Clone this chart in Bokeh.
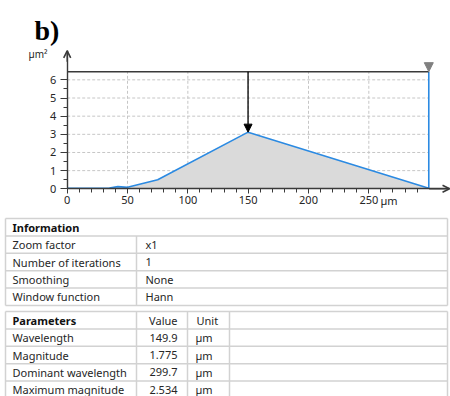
from bokeh.plotting import figure
from bokeh.models import (Range1d, FixedTicker, Arrow, OpenHead, NormalHead, Label,
                          LinearAxis)
from bokeh.core.properties import value
from bokeh.embed import file_html
from bokeh.resources import INLINE

# ---- spectrum profile (wavelength in µm, power in µm²) ----
wavelength = [0, 35, 42, 50, 60, 75, 149.9, 299.7]
power = [0.03, 0.04, 0.12, 0.08, 0.25, 0.5, 3.12, 0.03]
peak_wavelength = 149.9
peak_power = 3.12
dominant_wavelength = 299.7
top_level = 6.45

x_ticks = [0, 50, 100, 150, 200, 250]
x_minor_ticks = [10, 20, 30, 40, 60, 70, 80, 90, 110, 120, 130, 140,
                 160, 170, 180, 190, 210, 220, 230, 240, 260, 270, 280, 290]
y_ticks = [0, 1, 2, 3, 4, 5, 6]
y_minor_ticks = [0.5, 1.5, 2.5, 3.5, 4.5, 5.5]

# ---- table contents ----
info_title = "Information"
info_names = ["Zoom factor", "Number of iterations", "Smoothing", "Window function"]
info_values = ["x1", "1", "None", "Hann"]

param_headers = ["Parameters", "Value", "Unit"]
param_names = ["Wavelength", "Magnitude", "Dominant wavelength", "Maximum magnitude"]
param_values = ["149.9", "1.775", "299.7", "2.534"]
param_units = ["µm", "µm", "µm", "µm"]

FONT = "Noto Sans"
AXIS_COLOR = "#3a3a3a"
TEXT_COLOR = "#262626"

W, H = 450, 396
# spectrum scale: origin and pixels per unit on the page
X0_PX, X_SCALE = 66.7, 1.2065
Y0_PX, Y_SCALE = 188.3, 18.16
X_AXIS_END = 316.9
Y_AXIS_END = 7.6

p = figure(width=W, height=H,
           x_range=Range1d(-X0_PX / X_SCALE, (W - X0_PX) / X_SCALE),
           y_range=Range1d(-(H - Y0_PX) / Y_SCALE, Y0_PX / Y_SCALE),
           output_backend="svg", toolbar_location=None,
           x_axis_location=None, y_axis_location=None, min_border=0)
p.extra_x_ranges = {"px": Range1d(0, W)}
p.extra_y_ranges = {"px": Range1d(H, 0)}
p.outline_line_color = None
p.grid.visible = False
p.background_fill_color = "white"
p.border_fill_color = "white"

xaxis = LinearAxis(fixed_location=0, bounds=(0, X_AXIS_END),
                   ticker=FixedTicker(ticks=x_ticks, minor_ticks=x_minor_ticks))
yaxis = LinearAxis(fixed_location=0, bounds=(0, Y_AXIS_END),
                   ticker=FixedTicker(ticks=y_ticks, minor_ticks=y_minor_ticks))
for ax in (xaxis, yaxis):
    ax.axis_line_color = AXIS_COLOR
    ax.axis_line_width = 1.4
    ax.major_tick_line_color = AXIS_COLOR
    ax.minor_tick_line_color = AXIS_COLOR
    ax.major_tick_in = 0
    ax.minor_tick_in = 0
    ax.major_label_text_font = FONT
    ax.major_label_text_font_size = "11px"
    ax.major_label_text_color = TEXT_COLOR
xaxis.major_tick_out = 5
xaxis.minor_tick_out = 4
xaxis.major_label_standoff = 2
yaxis.major_tick_out = 7
yaxis.minor_tick_out = 4
yaxis.major_label_standoff = 4
p.add_layout(xaxis, "below")
p.add_layout(yaxis, "left")

# dashed grid limited to the spectrum area
p.segment(x0=[0] * (len(y_ticks) - 1), y0=y_ticks[1:],
          x1=[dominant_wavelength] * (len(y_ticks) - 1), y1=y_ticks[1:],
          line_color="#c6c6c6", line_dash="3 2", line_width=1)
p.segment(x0=x_ticks[1:], y0=[0] * (len(x_ticks) - 1),
          x1=x_ticks[1:], y1=[top_level] * (len(x_ticks) - 1),
          line_color="#c6c6c6", line_dash="3 2", line_width=1)

# shaded area under the spectrum
p.varea(x=wavelength, y1=[0] * len(wavelength), y2=power, fill_color="#dadada")
p.line(wavelength, power, line_color="#2b8ae2", line_width=1.6)
p.segment(x0=[dominant_wavelength], y0=[power[-1]], x1=[dominant_wavelength], y1=[top_level],
          line_color="#2b8ae2", line_width=1.6)

# top boundary
p.segment(x0=[0], y0=[top_level], x1=[dominant_wavelength], y1=[top_level],
          line_color="#3a3a3a", line_width=1.5)

# peak marker
p.add_layout(Arrow(end=NormalHead(size=8, fill_color="black", line_color="black"),
                   x_start=peak_wavelength, y_start=top_level,
                   x_end=peak_wavelength, y_end=peak_power,
                   line_color="black", line_width=1.3))
# dominant wavelength cursor
p.add_layout(Arrow(end=NormalHead(size=9, fill_color="#808080", line_color="#808080"),
                   x_start=dominant_wavelength, y_start=7.2,
                   x_end=dominant_wavelength, y_end=top_level,
                   line_alpha=0))

# axis arrow heads
p.add_layout(Arrow(end=OpenHead(size=7, line_color=AXIS_COLOR, line_width=1.6),
                   x_start=0, y_start=7.0, x_end=0, y_end=Y_AXIS_END,
                   line_color=AXIS_COLOR, line_width=1.4))
p.add_layout(Arrow(end=OpenHead(size=7, line_color=AXIS_COLOR, line_width=1.6),
                   x_start=300, y_start=0, x_end=X_AXIS_END, y_end=0,
                   line_color=AXIS_COLOR, line_width=1.4))

# units and panel letter (page coordinates)
p.add_layout(Label(x=380, y=199.5, text="µm", text_align="left",
                   text_baseline="middle", text_font=FONT, text_font_size="11px",
                   text_color=TEXT_COLOR, x_range_name="px", y_range_name="px"))
p.add_layout(Label(x=28, y=53, text="µm²", text_align="left",
                   text_baseline="middle", text_font=FONT, text_font_size="10px",
                   text_color=TEXT_COLOR, x_range_name="px", y_range_name="px"))
p.add_layout(Label(x=34, y=30, text="b)", text_align="left",
                   text_baseline="alphabetic", text_font="Liberation Serif",
                   text_font_style="bold", text_font_size="28px", text_color="black",
                   x_range_name="px", y_range_name="px"))

# ---------------- tables ----------------
ROW = 17.4
LEFT, RIGHT = 5, 447
GRID_COLOR = "#d2d2d2"
PX = dict(x_range_name="px", y_range_name="px")


def draw_table(top, n_rows, col_lines, header_split):
    ys = [top + i * ROW for i in range(n_rows + 1)]
    p.segment(x0=[LEFT] * len(ys), y0=ys, x1=[RIGHT] * len(ys), y1=ys,
              line_color=GRID_COLOR, line_width=1.5, **PX)
    bottom = ys[-1]
    p.segment(x0=[LEFT, RIGHT], y0=[top, top], x1=[LEFT, RIGHT], y1=[bottom, bottom],
              line_color=GRID_COLOR, line_width=1.5, **PX)
    start = top if header_split else top + ROW
    p.segment(x0=col_lines, y0=[start] * len(col_lines), x1=col_lines,
              y1=[bottom] * len(col_lines), line_color=GRID_COLOR, line_width=1.5, **PX)
    return [top + ROW / 2 + i * ROW for i in range(n_rows)]


def put_text(xs, ys, texts, align="left", bold=False):
    p.text(x=xs, y=ys, text=texts, text_align=align, text_baseline="middle",
           text_font=value(FONT), text_font_size="11px",
           text_font_style="bold" if bold else "normal",
           text_color="#111111" if bold else TEXT_COLOR, **PX)


# Information table
cy = draw_table(218, 5, [136], header_split=False)
put_text([12], [cy[0]], [info_title], bold=True)
put_text([12] * 4, cy[1:], info_names)
put_text([145] * 4, cy[1:], info_values)

# Parameters table
cy = draw_table(311, 5, [136, 187, 229], header_split=True)
put_text([12], [cy[0]], [param_headers[0]], bold=True)
put_text([177], [cy[0]], [param_headers[1]], align="right")
put_text([196], [cy[0]], [param_headers[2]])
put_text([12] * 4, cy[1:], param_names)
put_text([177] * 4, cy[1:], param_values, align="right")
put_text([195] * 4, cy[1:], param_units)

open("out.html", "w").write(file_html(p, INLINE))
